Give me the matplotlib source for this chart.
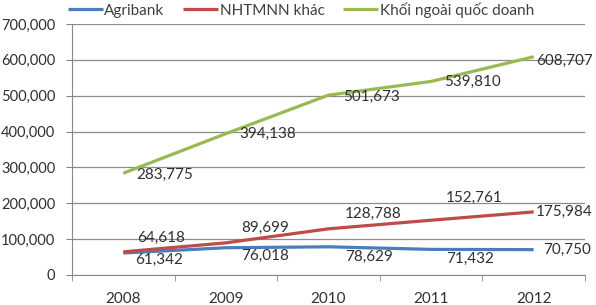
import matplotlib

matplotlib.use('Agg')
import matplotlib.pyplot as plt
import numpy as np

plt.rcParams['font.family'] = ['Lato', 'DejaVu Sans']
plt.rcParams['font.size'] = 11
plt.rcParams['text.color'] = '#404040'

years = ['2008', '2009', '2010', '2011', '2012']
agribank = [61342, 76018, 78629, 71432, 70750]
nhtmnn = [64618, 89699, 128788, 152761, 175984]
ngoai_qd = [283775, 394138, 501673, 539810, 608707]

series = [
    ('Agribank', agribank, '#4A7EBB'),
    ('NHTMNN khác', nhtmnn, '#BE4B48'),
    ('Khối ngoài quốc doanh', ngoai_qd, '#98B954'),
]

# label offsets (points) per series and year
offsets = [
    [(26, -5), (28, -6), (29, -7), (28, -7), (24, 0)],
    [(27, 10), (28, 11), (32, 11), (31, 16), (22, 0)],
    [(30, -1), (30, 0), (31, -1), (30, 0), (22, -3)],
]

fig = plt.figure(figsize=(5.96, 3.05), dpi=100)
ax = fig.add_axes([72 / 596, 1 - 275 / 305, 513 / 596, 251 / 305])

x = np.arange(len(years))
for (name, vals, col), offs in zip(series, offsets):
    ax.plot(x, vals, color=col, lw=2.3, label=name, solid_capstyle='butt')
    for xi, v, (dx, dy) in zip(x, vals, offs):
        ax.annotate(f'{v:,}', (xi, v), xytext=(dx, dy), textcoords='offset points',
                    ha='center', va='center', fontsize=11, color='#303030')

ax.set_xlim(-0.5, len(years) - 0.5)
ax.set_ylim(0, 700000)
ax.set_yticks(np.arange(0, 700001, 100000))
ax.yaxis.set_major_formatter(matplotlib.ticker.FuncFormatter(lambda v, p: f'{int(v):,}'))
ax.set_xticks(x)
ax.set_xticklabels(years)
ax.set_xticks(np.arange(-0.5, len(years), 1), minor=True)
ax.tick_params(axis='x', which='major', length=0, pad=12, labelsize=11, labelcolor='#303030')
ax.tick_params(axis='x', which='minor', length=4, color='#888888')
ax.tick_params(axis='y', length=4, color='#888888', labelsize=10.5, labelcolor='#303030', pad=8)

ax.grid(axis='y', color='#8c8c8c', lw=0.9)
ax.set_axisbelow(True)
for s in ['top', 'right']:
    ax.spines[s].set_visible(False)
for s in ['left', 'bottom']:
    ax.spines[s].set_color('#888888')

ax.legend(loc='center', bbox_to_anchor=(0.446, 1.056), ncol=3, frameon=False,
          handlelength=2.3, handletextpad=0.1, columnspacing=1.2, fontsize=11,
          borderaxespad=0, borderpad=0)

fig.savefig('out.png', dpi=100)
